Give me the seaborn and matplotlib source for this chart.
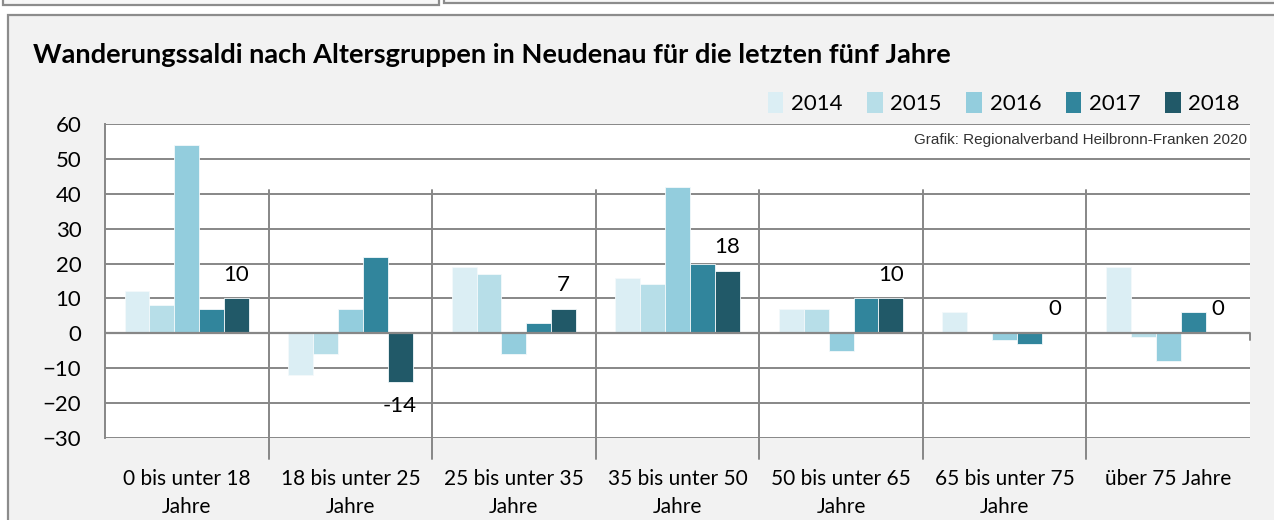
import numpy as np
import pandas as pd
import matplotlib
matplotlib.use("Agg")
import matplotlib.pyplot as plt
import seaborn as sns
from matplotlib.patches import Rectangle, Patch

# Altersgruppen (x-Achse)
groups = ["0 bis unter 18\nJahre", "18 bis unter 25\nJahre", "25 bis unter 35\nJahre",
          "35 bis unter 50\nJahre", "50 bis unter 65\nJahre", "65 bis unter 75\nJahre",
          "über 75 Jahre"]
years = ["2014", "2015", "2016", "2017", "2018"]

# Wanderungssaldi je Jahr
v2014 = [12, -12, 19, 16, 7, 6, 19]
v2015 = [8, -6, 17, 14, 7, 0, -1]
v2016 = [54, 7, -6, 42, -5, -2, -8]
v2017 = [7, 22, 3, 20, 10, -3, 6]
v2018 = [10, -14, 7, 18, 10, 0, 0]

colors = ["#DBEEF4", "#B7DEE8", "#93CDDD", "#31859C", "#215968"]
title = "Wanderungssaldi nach Altersgruppen in Neudenau für die letzten fünf Jahre"
source = "Grafik: Regionalverband Heilbronn-Franken 2020"

df = pd.DataFrame({
    "Altersgruppe": groups * 5,
    "Jahr": np.repeat(years, len(groups)),
    "Saldo": v2014 + v2015 + v2016 + v2017 + v2018,
})

sns.set_style("white")
plt.rcParams["font.family"] = ["Lato", "DejaVu Sans"]
plt.rcParams["text.color"] = "black"
plt.rcParams["xtick.color"] = "black"
plt.rcParams["ytick.color"] = "black"

W, H = 1274, 520
grid_col = "#878787"

fig = plt.figure(figsize=(W / 100, H / 100), dpi=100, facecolor="white")

# panel frames like the source page
def box(x0, y0, x1, y1, fc):
    fig.patches.append(Rectangle((x0 / W, 1 - y1 / H), (x1 - x0) / W, (y1 - y0) / H,
                                 transform=fig.transFigure, facecolor=fc,
                                 edgecolor="#8c8c8c", linewidth=1.6, zorder=-5))

box(3, -10, 439, 5, "#f7f7f7")
box(444, -10, 1290, 3, "#f7f7f7")
box(8, 15, 1290, 540, "#F2F2F2")

ax = fig.add_axes([105 / W, 1 - 438 / H, (1250 - 105) / W, (438 - 124) / H])
ax.set_facecolor("white")
ax.set_zorder(2)

sns.barplot(data=df, x="Altersgruppe", y="Saldo", hue="Jahr", palette=colors,
            width=0.76, gap=0, saturation=1, errorbar=None, legend=False,
            edgecolor="#f4f9fb", linewidth=0.6, ax=ax)

ax.set_xlim(-0.5, 6.5)
ax.set_ylim(-30, 60)
ax.set_yticks(range(-30, 61, 10))
ax.set_xlabel("")
ax.set_ylabel("")
ax.grid(axis="y", color=grid_col, linewidth=1.4)
ax.set_axisbelow(True)
for s in ["top", "right", "bottom"]:
    ax.spines[s].set_visible(False)
ax.spines["left"].set_color(grid_col)
ax.spines["left"].set_linewidth(1.4)
ax.axhline(0, color=grid_col, linewidth=1.6, zorder=3)

ax.tick_params(axis="y", length=5, width=1.4, color=grid_col, labelcolor="black",
               pad=12, labelsize=16)
ax.tick_params(axis="x", length=0, pad=22, labelsize=15, labelcolor="black")
for lab in ax.get_xticklabels():
    lab.set_linespacing(1.5)

# category separators
for b in np.arange(0.5, 6, 1):
    ax.plot([b, b], [41, -36], color=grid_col, linewidth=1.4, clip_on=False, zorder=3)
ax.plot([6.5, 6.5], [0, -2], color=grid_col, linewidth=1.4, clip_on=False, zorder=3)

# data labels on 2018
ax.bar_label(ax.containers[4], labels=[str(v) for v in v2018], padding=10, fontsize=16)

ax.text(0.9974, 0.949, source, transform=ax.transAxes, ha="right", va="center",
        fontsize=11, family=["Liberation Sans", "DejaVu Sans"], color="#333333")

handles = [Patch(facecolor=c, edgecolor="none") for c in colors]
fig.legend(handles, years, loc="center right", bbox_to_anchor=(1240 / W, 1 - 103 / H),
           ncol=5, frameon=False, handlelength=0.7, handleheight=1.1, handletextpad=0.35,
           columnspacing=1.1, fontsize=16, borderaxespad=0, borderpad=0)

fig.text(33 / W, 1 - 55 / H, title, fontsize=19.6, fontweight="bold", va="center")

fig.savefig("out.png", dpi=100, facecolor=fig.get_facecolor())
